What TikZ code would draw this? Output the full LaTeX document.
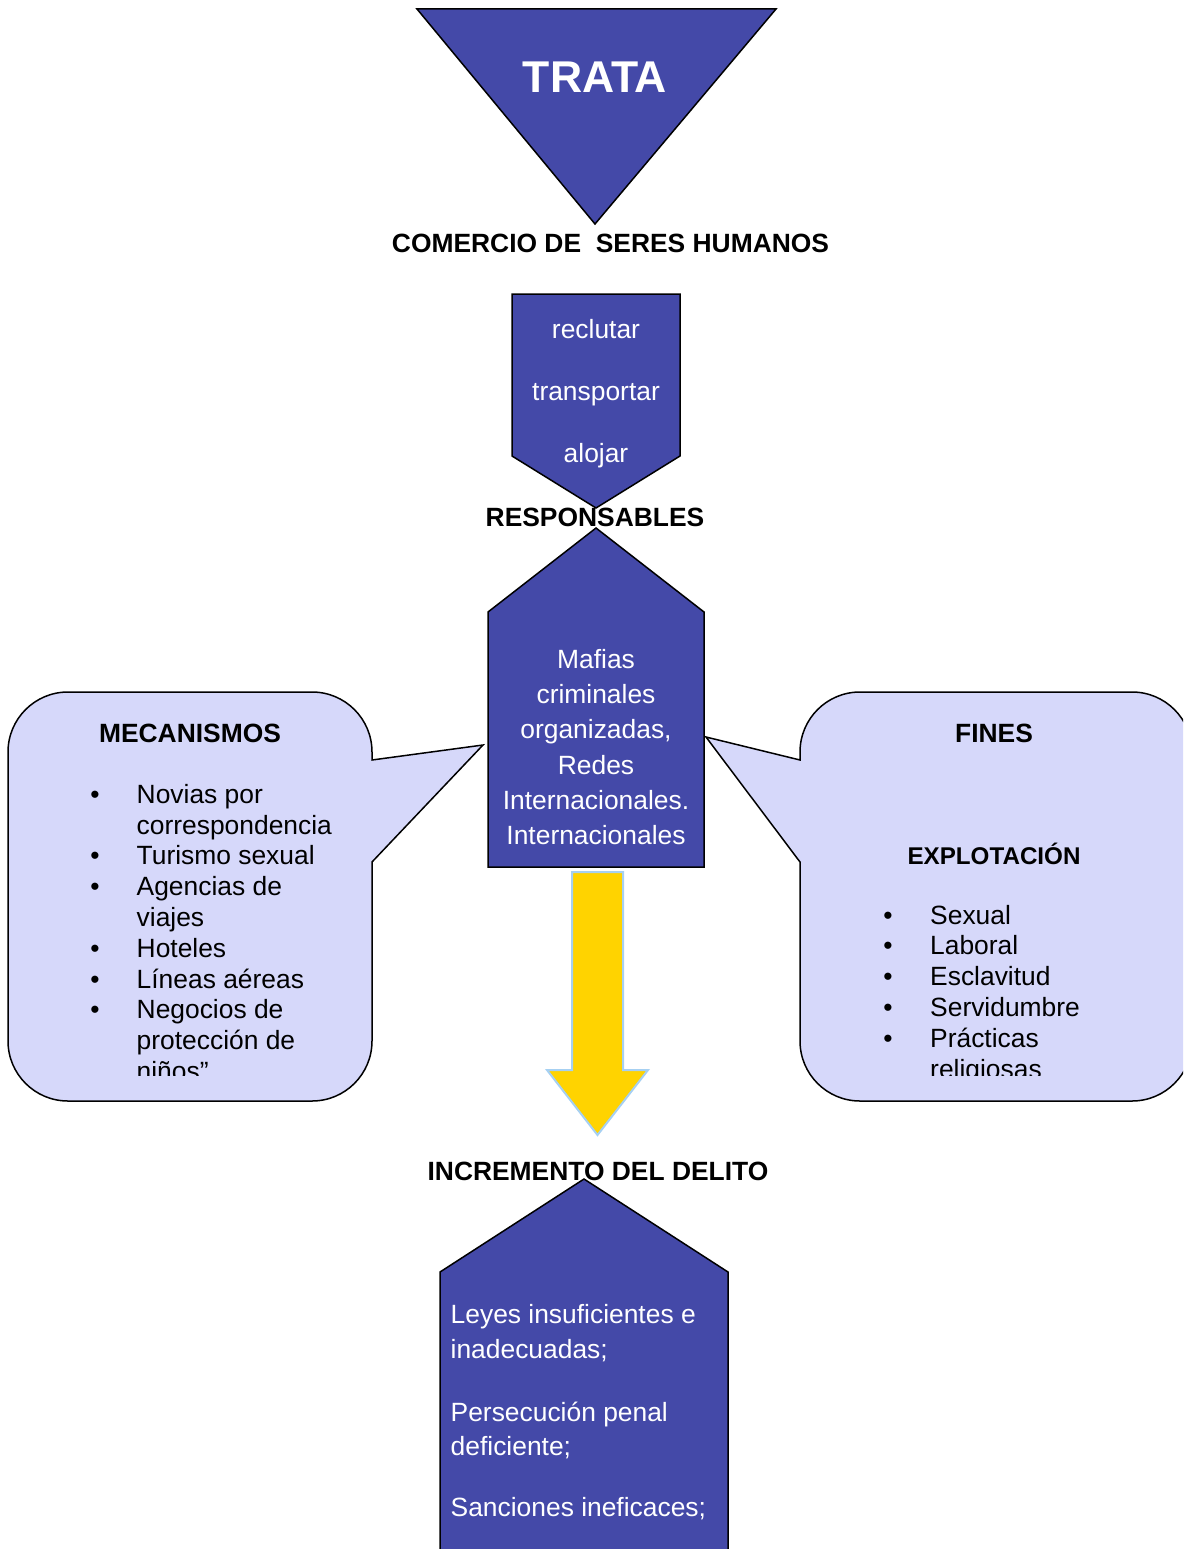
\documentclass[tikz,border=0pt]{standalone}
\usepackage{fontspec}
\setmainfont{Liberation Sans}
\definecolor{dblue}{RGB}{68,73,168}
\definecolor{lav}{RGB}{214,216,250}
\definecolor{gold}{RGB}{255,211,0}
\definecolor{skyb}{RGB}{166,208,242}
\begin{document}
\begin{tikzpicture}[x=1pt,y=-1pt,
  shapeb/.style={fill=dblue,draw=black,line width=1.5pt,line join=miter},
  callout/.style={fill=lav,draw=black,line width=1.5pt},
  wtxt/.style={text=white,font=\fontsize{26.4}{30.8}\selectfont,inner sep=0pt,anchor=base},
  btxt/.style={text=black,font=\bfseries\fontsize{26.4}{30.8}\selectfont,inner sep=0pt,anchor=base},
  ltxt/.style={text=black,font=\fontsize{26.4}{30.8}\selectfont,inner sep=0pt,anchor=base west},
  bul/.style={text=black,font=\fontsize{26.4}{30.8}\selectfont,inner sep=0pt,anchor=base},
]
\useasboundingbox (0,0) rectangle (1183,1549);
\clip (0,0) rectangle (1183,1549);

% top triangle
\draw[shapeb] (417,9) -- (776,9) -- (595,224) -- cycle;
\node[wtxt,font=\bfseries\fontsize{44.5}{50}\selectfont] (trata) at (595,92.5) {TRATA};

% chevron
\draw[shapeb] (512,294) -- (680,294) -- (680,456) -- (596,508) -- (512,456) -- cycle;
\node[wtxt] (rec) at (596,338) {reclutar};
\node[wtxt] (tra) at (596,400) {transportar};
\node[wtxt] (alo) at (596,462) {alojar};

% responsables pentagon
\draw[shapeb] (596,528) -- (704,612) -- (704,867) -- (488,867) -- (488,612) -- cycle;
\foreach \t [count=\i] in {Mafias, criminales, {organizadas,}, Redes, {Internacionales.}, Internacionales}
  \node[wtxt] (maf\i) at (596,{668.5+35.2*(\i-1)}) {\t};

% left callout
\draw[callout] (8,752) arc[start angle=180,end angle=270,radius=60] -- (312,692)
  arc[start angle=270,end angle=360,radius=60] -- (372,760) -- (483,745) -- (372,862)
  -- (372,1041) arc[start angle=0,end angle=90,radius=60] -- (68,1101)
  arc[start angle=90,end angle=180,radius=60] -- cycle;
% right callout
\draw[callout] (800,752) arc[start angle=180,end angle=270,radius=60] -- (1132,692)
  arc[start angle=270,end angle=360,radius=60] -- (1192,1041)
  arc[start angle=0,end angle=90,radius=60] -- (860,1101)
  arc[start angle=90,end angle=180,radius=60] -- (800,862) -- (706,737) -- (800,760) -- cycle;

\node[btxt] (mec) at (190,742.5) {MECANISMOS};
\node[btxt] (fin) at (994,742.5) {FINES};
\node[btxt,font=\bfseries\fontsize{24.2}{28}\selectfont] (exp) at (994,864) {EXPLOTACIÓN};

\begin{scope}
\clip (0,0) rectangle (1183,1075);
\foreach \t [count=\i] in {Novias por, correspondencia, Turismo sexual, Agencias de, viajes, Hoteles, Líneas aéreas, Negocios de, protección de, niños”}
  \node[ltxt] (m\i) at (136.5,{803.3+30.8*(\i-1)}) {\t};
\foreach \i in {1,3,4,6,7,8}
  \node[bul] (mb\i) at (95,{803.3+30.8*(\i-1)}) {•};
\foreach \t [count=\i] in {Sexual, Laboral, Esclavitud, Servidumbre, Prácticas, religiosas}
  \node[ltxt] (f\i) at (930,{924+30.8*(\i-1)}) {\t};
\foreach \i in {1,...,5}
  \node[bul] (fb\i) at (888,{924+30.8*(\i-1)}) {•};
\end{scope}

% yellow arrow
\draw[fill=gold,draw=skyb,line width=2pt] (572,872) -- (623,872) -- (623,1070) -- (648,1070)
  -- (597.5,1135) -- (547,1070) -- (572,1070) -- cycle;

% bottom pentagon
\draw[shapeb] (584,1179) -- (728,1272) -- (728,1565) -- (440,1565) -- (440,1272) -- cycle;
\node[wtxt,anchor=base west] (ley1) at (450.5,1323.3) {Leyes insuficientes e};
\node[wtxt,anchor=base west] (ley2) at (450.5,1358.3) {inadecuadas;};
\node[wtxt,anchor=base west] (per1) at (450.5,1421.7) {Persecución penal};
\node[wtxt,anchor=base west] (per2) at (450.5,1455.5) {deficiente;};
\node[wtxt,anchor=base west] (san) at (450.5,1516.7) {Sanciones ineficaces;};

% labels
\node[btxt] (com) at (610.5,252.5) {COMERCIO DE\ \ SERES HUMANOS};
\node[btxt] (res) at (595,526.5) {RESPONSABLES};
\node[btxt] (inc) at (598,1180.7) {INCREMENTO DEL DELITO};
\end{tikzpicture}
\end{document}
